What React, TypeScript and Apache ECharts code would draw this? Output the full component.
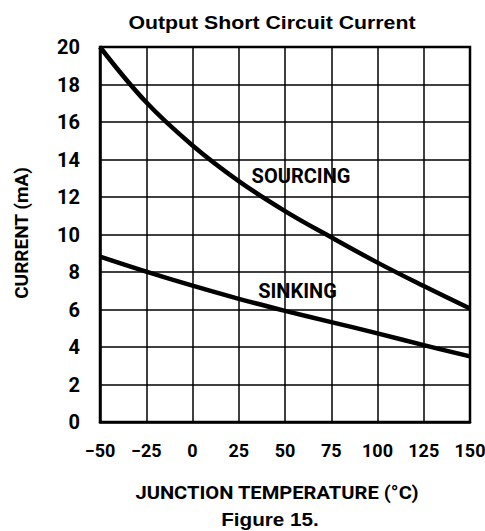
import React, { useEffect, useRef } from "react";
import * as echarts from "echarts";

const temperatures = [-50, -25, 0, 25, 50, 75, 100, 125, 150];
const sourcing = [20.0, 17.05, 14.75, 12.85, 11.25, 9.85, 8.5, 7.25, 6.05];
const sinking = [8.82, 8.02, 7.27, 6.57, 5.93, 5.33, 4.73, 4.1, 3.5];
const yTicks = [0, 2, 4, 6, 8, 10, 12, 14, 16, 18, 20];

const COND = 'Roboto, "Liberation Sans Narrow", sans-serif';
const ARIAL = '"Liberation Sans", Arial, sans-serif';

export default function App() {
  const ref = useRef<HTMLDivElement>(null);
  useEffect(() => {
    if (!ref.current) return;
    const chart = echarts.init(ref.current, null, { renderer: "svg" });
    chart.setOption({
      animation: false,
      backgroundColor: "#ffffff",
      grid: {
        left: 100,
        right: 15,
        top: 47,
        bottom: 109,
        show: true,
        borderColor: "#000",
        borderWidth: 2.5,
        backgroundColor: "transparent",
        outerBoundsMode: "none",
        containLabel: false,
      },
      xAxis: {
        type: "value",
        min: -50,
        max: 150,
        interval: 25,
        axisLine: { show: true, onZero: false, lineStyle: { color: "#000", width: 2.5 } },
        axisTick: { show: false },
        splitLine: { show: true, lineStyle: { color: "#000", width: 1.5 } },
        axisLabel: {
          color: "#000",
          fontFamily: COND,
          fontWeight: "bold",
          fontSize: 18,
          margin: 19,
          hideOverlap: false,
          formatter: (v: number) => String(v).replace("-", "\u2212"),
        },
      },
      yAxis: {
        type: "value",
        min: 0,
        max: 20,
        interval: 2,
        axisLine: { show: true, onZero: false, lineStyle: { color: "#000", width: 2.5 } },
        axisTick: { show: false },
        splitLine: { show: true, lineStyle: { color: "#000", width: 1.5 } },
        axisLabel: {
          color: "#000",
          fontFamily: COND,
          fontWeight: "bold",
          fontSize: 20,
          margin: 20,
          formatter: (v: number) => (yTicks.includes(v) ? String(v) : ""),
        },
      },
      series: [
        {
          name: "SOURCING",
          type: "line",
          data: temperatures.map((t, i) => [t, sourcing[i]]),
          smooth: 0.4,
          showSymbol: false,
          lineStyle: { color: "#000", width: 4.5 },
        },
        {
          name: "SINKING",
          type: "line",
          data: temperatures.map((t, i) => [t, sinking[i]]),
          smooth: 0.4,
          showSymbol: false,
          lineStyle: { color: "#000", width: 4.5 },
        },
      ],
      graphic: [
        {
          type: "text",
          x: 272,
          y: 22,
          scaleX: 1.12,
          style: {
            text: "Output Short Circuit Current",
            fill: "#000",
            font: `bold 19px ${ARIAL}`,
            textAlign: "center",
            textVerticalAlign: "middle",
          },
        },
        {
          type: "text",
          x: 21,
          y: 233,
          rotation: Math.PI / 2,
          style: {
            text: "CURRENT (mA)",
            fill: "#000",
            font: `bold 19px ${COND}`,
            textAlign: "center",
            textVerticalAlign: "middle",
          },
        },
        {
          type: "text",
          x: 277,
          y: 493,
          scaleX: 1.06,
          style: {
            text: "JUNCTION TEMPERATURE (\u00b0C)",
            fill: "#000",
            font: `bold 19px ${COND}`,
            textAlign: "center",
            textVerticalAlign: "middle",
          },
        },
        {
          type: "text",
          x: 270,
          y: 520,
          scaleX: 1.15,
          style: {
            text: "Figure 15.",
            fill: "#000",
            font: `bold 18px ${ARIAL}`,
            textAlign: "center",
            textVerticalAlign: "middle",
          },
        },
        {
          type: "text",
          x: 301,
          y: 175.5,
          style: {
            text: "SOURCING",
            fill: "#000",
            font: `bold 20px ${COND}`,
            textAlign: "center",
            textVerticalAlign: "middle",
          },
        },
        {
          type: "text",
          x: 297.5,
          y: 290.5,
          style: {
            text: "SINKING",
            fill: "#000",
            font: `bold 20px ${COND}`,
            textAlign: "center",
            textVerticalAlign: "middle",
          },
        },
      ],
    });
    return () => chart.dispose();
  }, []);
  return (
    <div
      ref={ref}
      style={{ position: "fixed", left: 0, top: 0, width: 485, height: 531, background: "#fff" }}
    />
  );
}
